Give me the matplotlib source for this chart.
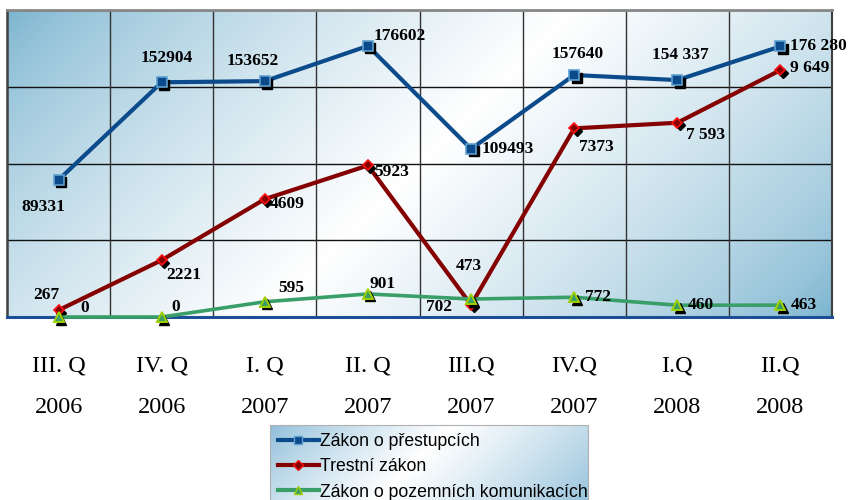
import numpy as np
import matplotlib
matplotlib.use("Agg")
import matplotlib.pyplot as plt
from matplotlib.lines import Line2D
from matplotlib.transforms import offset_copy

# ---------------- data ----------------
quarters = ["III. Q", "IV. Q", "I. Q", "II. Q", "III.Q", "IV.Q", "I.Q", "II.Q"]
years = ["2006", "2006", "2007", "2007", "2007", "2007", "2008", "2008"]

prestupky = [89331, 152904, 153652, 176602, 109493, 157640, 154337, 176280]
trestni = [267, 2221, 4609, 5923, 473, 7373, 7593, 9649]
pozemni = [0, 0, 595, 901, 702, 772, 460, 463]

prestupky_text = ["89331", "152904", "153652", "176602", "109493", "157640", "154 337", "176 280"]
trestni_text = ["267", "2221", "4609", "5923", "473", "7373", "7 593", "9 649"]
pozemni_text = ["0", "0", "595", "901", "702", "772", "460", "463"]

series_names = ["Zákon o přestupcích", "Trestní zákon", "Zákon o pozemních komunikacích"]

# ---------------- layout / style ----------------
W, H = 850, 500
fig = plt.figure(figsize=(8.5, 5.0), dpi=100)
L, R, T, B = 7, 832, 10, 317
ax = fig.add_axes([L / W, 1 - B / H, (R - L) / W, (B - T) / H])
ax2 = ax.twinx()

BLUE = "#0b4a8b"
RED = "#850000"
GREEN = "#3a9e68"

# gradient background
def gradient(axes, w, h, blue=(0.47, 0.70, 0.81), zorder=0, mid=0.5, p=0.8):
    ny, nx = 200, 400
    xs = np.linspace(0, w, nx)
    ys = np.linspace(0, h, ny)
    X, Y = np.meshgrid(xs, ys)
    t = (X + Y) / (w + h)
    k = 1 - np.clip(np.abs(t - mid) / np.where(t < mid, mid, 1 - mid), 0, 1)
    k = k ** p
    img = np.zeros((ny, nx, 3))
    for c in range(3):
        img[..., c] = blue[c] + (1 - blue[c]) * k
    axes.imshow(img, extent=[0, 1, 0, 1], transform=axes.transAxes,
                aspect="auto", origin="upper", zorder=zorder, interpolation="bilinear")

gradient(ax, R - L, B - T, p=0.7)

x = np.arange(len(quarters))
ax.set_xlim(-0.5, len(quarters) - 0.5)
ax.set_ylim(0, 200000)
ax2.set_ylim(0, 12000)
ax2.patch.set_visible(False)

# grid
for yv in [50000, 100000, 150000, 200000]:
    ax.axhline(yv, color="#111111", lw=1.0, zorder=1)
for xv in np.arange(0.5, len(quarters) - 0.5, 1):
    ax.axvline(xv, color="#333333", lw=1.0, zorder=1)

for a in (ax, ax2):
    a.set_yticks([])
    for s in a.spines.values():
        s.set_visible(False)
ax.spines["left"].set_visible(True)
ax.spines["left"].set_color("#404040")
ax.spines["left"].set_linewidth(1.8)
ax.spines["right"].set_visible(True)
ax.spines["right"].set_color("#404040")
ax.spines["right"].set_linewidth(1.5)
ax.spines["top"].set_visible(True)
ax.spines["top"].set_color("#888888")
ax.spines["top"].set_linewidth(2.0)

# bottom axis line (blue)
ax2.axhline(0, color="#1d4f96", lw=2.2, zorder=1.5, clip_on=False)

def shadow_tr(a):
    return offset_copy(a.transData, fig=fig, x=2.5, y=-2.5, units="dots")

# blue series
ax.plot(x, prestupky, color=BLUE, lw=3.0, zorder=3, solid_capstyle="round")
ax.plot(x, prestupky, ls="none", marker="s", ms=6.5, color="black", zorder=3.5,
        transform=shadow_tr(ax))
ax.plot(x, prestupky, ls="none", marker="s", ms=6.5, mfc=BLUE, mec="#5fa0d0", mew=1.2, zorder=4)

# red series
ax2.plot(x, trestni, color=RED, lw=3.0, zorder=3)
ax2.plot(x, trestni, ls="none", marker="D", ms=5.5, color="black", zorder=3.5,
         transform=shadow_tr(ax2), clip_on=False)
ax2.plot(x, trestni, ls="none", marker="D", ms=5.5, mfc=RED, mec="#ff1010", mew=1.2, zorder=4,
         clip_on=False)

# green series
ax2.plot(x, pozemni, color=GREEN, lw=2.6, zorder=5, clip_on=False)
ax2.plot(x, pozemni, ls="none", marker="^", ms=7, color="black", zorder=5.5,
         transform=shadow_tr(ax2), clip_on=False)
ax2.plot(x, pozemni, ls="none", marker="^", ms=7, mfc=GREEN, mec="#a0d000", mew=1.4, zorder=6,
         clip_on=False)

# data labels
lab_font = dict(family="Liberation Serif", fontweight="bold", fontsize=12.5, color="black")
blue_off = [(-15, -27, "center"), (5, 24, "center"), (-12, 20, "center"), (6, 10, "left"),
            (11, 0, "left"), (3, 21, "center"), (3, 25, "center"), (10, 0, "left")]
red_off = [(-12, 15, "center"), (22, -15, "center"), (22, -5, "center"), (24, -7, "center"),
           (-2, 39, "center"), (22, -19, "center"), (9, -12, "left"), (10, 2, "left")]
green_off = [(26, 9, "center"), (14, 10, "center"), (26, 14, "center"), (15, 10, "center"),
             (-32, -8, "center"), (11, 0, "left"), (10, 0, "left"), (10, 0, "left")]

for a, vals, texts, offs in [(ax, prestupky, prestupky_text, blue_off),
                             (ax2, trestni, trestni_text, red_off),
                             (ax2, pozemni, pozemni_text, green_off)]:
    for xi, v, t, (dx, dy, ha) in zip(x, vals, texts, offs):
        a.annotate(t, (xi, v), xytext=(dx, dy), textcoords="offset pixels",
                   ha=ha, va="center", zorder=7, annotation_clip=False, **lab_font)

# x tick labels
ax.set_xticks(x)
ax.set_xticklabels([f"{q}\n{y}" for q, y in zip(quarters, years)],
                   fontfamily="Liberation Serif", fontsize=17.5, linespacing=2.27)
ax.tick_params(axis="x", length=0, pad=27.5)
ax2.tick_params(axis="x", length=0)

# legend with gradient background
lx0, lx1, ly0, ly1 = 270, 588, 425, 512
lax = fig.add_axes([lx0 / W, 1 - ly1 / H, (lx1 - lx0) / W, (ly1 - ly0) / H])
gradient(lax, lx1 - lx0, ly1 - ly0, blue=(0.55, 0.74, 0.85), mid=0.45)
lax.set_xlim(0, 1)
lax.set_ylim(0, 1)
lax.set_xticks([])
lax.set_yticks([])
for s in lax.spines.values():
    s.set_color("#b0b0b0")
    s.set_linewidth(0.8)

handles = [
    Line2D([], [], color=BLUE, lw=3.0, marker="s", ms=5.5, mfc=BLUE, mec="#5fa0d0"),
    Line2D([], [], color=RED, lw=3.0, marker="D", ms=5, mfc=RED, mec="#ff1010"),
    Line2D([], [], color=GREEN, lw=3.0, marker="^", ms=6, mfc=GREEN, mec="#a0d000"),
]
leg = lax.legend(handles, series_names, loc="upper left", bbox_to_anchor=(0.0, 1.0),
                 frameon=False, prop=dict(family="Liberation Sans", size=12.7),
                 handlelength=2.3, handletextpad=0.1, labelspacing=0.47,
                 borderaxespad=0.0, borderpad=0.45)

fig.savefig("out.png", dpi=100)
